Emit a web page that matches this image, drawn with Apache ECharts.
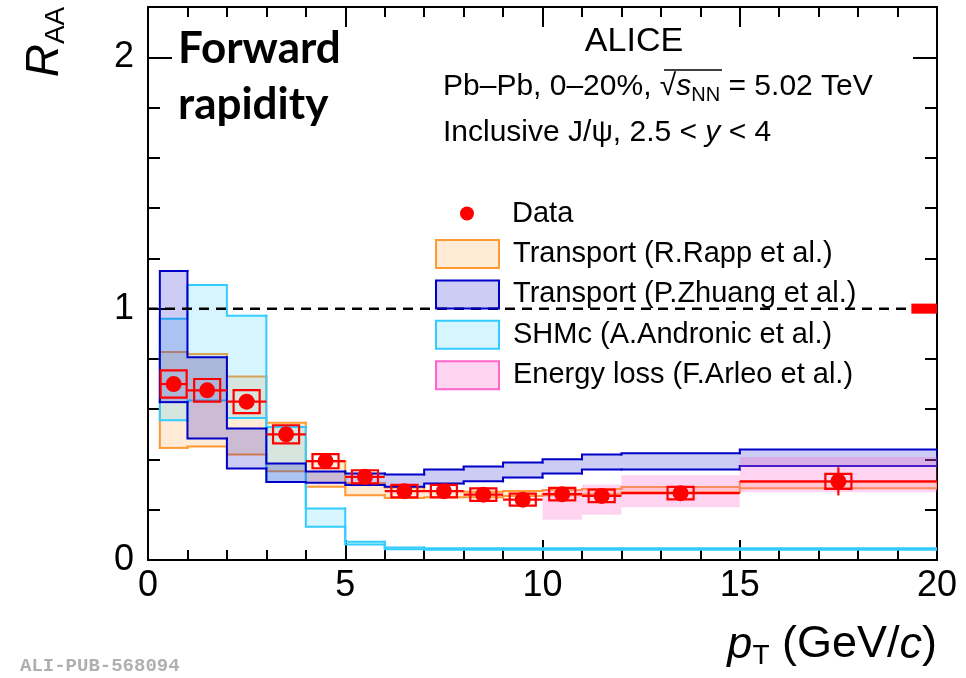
<!DOCTYPE html>
<html>
<head>
<meta charset="utf-8">
<script src="https://cdn.jsdelivr.net/npm/echarts@6/dist/echarts.min.js"></script>
<style>
html,body{margin:0;padding:0;background:#fff;}
#chart{width:966px;height:678px;}
</style>
</head>
<body>
<div id="chart"></div>
<script>
// ---------------- data ----------------
const ptLow    = [0.3, 1, 2, 3, 4, 5, 6, 7, 8, 9, 10, 11, 12, 15];
const ptHigh   = [1, 2, 3, 4, 5, 6, 7, 8, 9, 10, 11, 12, 15, 20];
const ptCenter = [0.65, 1.5, 2.5, 3.5, 4.5, 5.5, 6.5, 7.5, 8.5, 9.5, 10.5, 11.5, 13.5, 17.5];
const raa      = [0.70, 0.675, 0.63, 0.50, 0.393, 0.331, 0.274, 0.274, 0.26, 0.24, 0.262, 0.255, 0.266, 0.313];
const statErr  = [0.02, 0.02, 0.015, 0.012, 0.01, 0.01, 0.008, 0.008, 0.008, 0.008, 0.01, 0.01, 0.012, 0.056];
const sysErr   = [0.054, 0.045, 0.046, 0.036, 0.028, 0.026, 0.025, 0.025, 0.025, 0.024, 0.025, 0.025, 0.025, 0.03];
const globalUnc = 0.02;
const globalBoxPt = [19.35, 20];

// models (same pT bins as data)
const rappLo = [0.446, 0.452, 0.42, 0.353, 0.291, 0.258, 0.247, 0.25, 0.25, 0.255, 0.258, 0.262, 0.27, 0.285];
const rappHi = [0.827, 0.82, 0.73, 0.546, 0.393, 0.305, 0.288, 0.275, 0.272, 0.275, 0.278, 0.282, 0.29, 0.31];
const zhLo   = [0.628, 0.483, 0.364, 0.31, 0.307, 0.298, 0.291, 0.304, 0.313, 0.328, 0.344, 0.36, 0.36, 0.374];
const zhHi   = [1.15, 0.807, 0.523, 0.384, 0.352, 0.344, 0.34, 0.36, 0.372, 0.388, 0.401, 0.42, 0.425, 0.44];
const shmLo  = [0.556, 0.635, 0.565, 0.31, 0.132, 0.062, 0.043, 0.041, 0.041, 0.041, 0.041, 0.041, 0.041, 0.041];
const shmHi  = [0.96, 1.094, 0.972, 0.529, 0.205, 0.073, 0.05, 0.047, 0.047, 0.047, 0.047, 0.047, 0.047, 0.047];
const elPtLow  = [10, 11, 12, 15];
const elPtHigh = [11, 12, 15, 20];
const elLo = [0.16, 0.18, 0.21, 0.27];
const elHi = [0.28, 0.30, 0.337, 0.41];

const xTicks = [0, 5, 10, 15, 20];
const yTicks = [0, 1, 2];
const refLevel = 1;

// ---------------- styling ----------------
const FONT = '"Liberation Sans", Arial, sans-serif';
const C = {
  data: '#ff0000',
  rappLine: '#ff9933', rappFill: 'rgba(255,153,51,0.2)',
  zhLine: '#0000c8', zhFill: 'rgba(0,0,200,0.2)',
  shmLine: '#33ccff', shmFill: 'rgba(51,204,255,0.2)',
  elLine: '#ff66cc', elFill: 'rgba(255,102,204,0.28)'
};
const BOX_HALF = 0.33;

function makeBand(name, xlo, xhi, lo, hi, line, fill, lw) {
  const data = lo.map((v, i) => [xlo[i], xhi[i], v, hi[i]]);
  return {
    type: 'custom', name: name, data: data, silent: true, clip: true,
    encode: { x: [0, 1], y: [2, 3] },
    renderItem: function (params, api) {
      const i = params.dataIndex;
      const a = api.coord([api.value(0), api.value(3)]);
      const b = api.coord([api.value(1), api.value(2)]);
      const ch = [{ type: 'rect', shape: { x: a[0], y: a[1], width: b[0] - a[0], height: b[1] - a[1] }, style: { fill: fill } }];
      if (line) {
        const st = { stroke: line, lineWidth: lw, fill: null, lineCap: 'square', lineJoin: 'miter' };
        const top = [];
        if (i === 0) top.push([a[0], b[1]]);
        else top.push([a[0], api.coord([xlo[i], hi[i - 1]])[1]]);
        top.push([a[0], a[1]], [b[0], a[1]]);
        if (i === data.length - 1) top.push([b[0], b[1]]);
        const bot = [];
        if (i > 0) bot.push([a[0], api.coord([xlo[i], lo[i - 1]])[1]]);
        bot.push([a[0], b[1]], [b[0], b[1]]);
        ch.push({ type: 'polyline', shape: { points: top }, style: st });
        ch.push({ type: 'polyline', shape: { points: bot }, style: st });
      }
      return { type: 'group', children: ch };
    }
  };
}

const dataPoints = ptCenter.map((x, i) => [x, raa[i], ptLow[i], ptHigh[i], statErr[i], sysErr[i]]);

const chart = echarts.init(document.getElementById('chart'), null, { renderer: 'canvas' });

const axisCommonX = {
  type: 'value', min: 0, max: 20, interval: 5,
  axisLine: { show: true, onZero: false, lineStyle: { color: '#000', width: 2 } },
  axisTick: { show: true, inside: true, length: 20, lineStyle: { color: '#000', width: 2 } },
  minorTick: { show: true, splitNumber: 5, length: 10, lineStyle: { color: '#000', width: 2 } },
  splitLine: { show: false }, minorSplitLine: { show: false }
};
const axisCommonY = {
  type: 'value', min: 0, max: 2.2, interval: 1,
  axisLine: { show: true, onZero: false, lineStyle: { color: '#000', width: 2 } },
  axisTick: { show: true, inside: true, length: 24, lineStyle: { color: '#000', width: 2 } },
  minorTick: { show: true, splitNumber: 5, length: 12, lineStyle: { color: '#000', width: 2 } },
  splitLine: { show: false }, minorSplitLine: { show: false }
};

const option = {
  backgroundColor: '#fff',
  animation: false,
  grid: { left: 148, right: 29, top: 7, bottom: 118, containLabel: false },
  xAxis: [
    Object.assign({}, axisCommonX, {
      position: 'bottom',
      axisLabel: { color: '#000', fontSize: 36, fontFamily: FONT, margin: 8,
        formatter: v => (xTicks.indexOf(v) >= 0 ? String(v) : '') }
    }),
    Object.assign({}, axisCommonX, { position: 'top', axisLabel: { show: false } })
  ],
  yAxis: [
    Object.assign({}, axisCommonY, {
      position: 'left',
      axisLabel: { color: '#000', fontSize: 36, fontFamily: FONT, margin: 14,
        formatter: v => (yTicks.indexOf(v) >= 0 ? String(v) : '') }
    }),
    Object.assign({}, axisCommonY, { position: 'right', axisLabel: { show: false } })
  ],
  legend: [
    {
      data: [{ name: 'Data', icon: 'circle', itemStyle: { color: C.data, borderWidth: 0 } }],
      left: 460, top: 199, padding: 0, itemWidth: 14, itemHeight: 14, selectedMode: false,
      textStyle: { fontSize: 29, fontFamily: FONT, color: '#000', padding: [0, 0, 0, 33] }
    },
    {
      data: [
        { name: 'Transport (R.Rapp et al.)', icon: 'rect', itemStyle: { color: C.rappFill, borderColor: C.rappLine, borderWidth: 2 } },
        { name: 'Transport (P.Zhuang et al.)', icon: 'rect', itemStyle: { color: C.zhFill, borderColor: C.zhLine, borderWidth: 2 } },
        { name: 'SHMc (A.Andronic et al.)', icon: 'rect', itemStyle: { color: C.shmFill, borderColor: C.shmLine, borderWidth: 2 } },
        { name: 'Energy loss (F.Arleo et al.)', icon: 'rect', itemStyle: { color: C.elFill, borderColor: C.elLine, borderWidth: 2 } }
      ],
      orient: 'vertical', left: 435, top: 239, padding: 0, itemWidth: 63, itemHeight: 28, itemGap: 10.4, selectedMode: false,
      textStyle: { fontSize: 29, fontFamily: FONT, color: '#000', padding: [0, 0, 0, 9] }
    }
  ],
  series: [
    makeBand('Transport (R.Rapp et al.)', ptLow, ptHigh, rappLo, rappHi, C.rappLine, C.rappFill, 2),
    makeBand('SHMc (A.Andronic et al.)', ptLow, ptHigh, shmLo, shmHi, C.shmLine, C.shmFill, 2),
    makeBand('Transport (P.Zhuang et al.)', ptLow, ptHigh, zhLo, zhHi, C.zhLine, C.zhFill, 2),
    makeBand('Energy loss (F.Arleo et al.)', elPtLow, elPtHigh, elLo, elHi, null, C.elFill, 0),
    {
      type: 'line', name: 'unity', silent: true, symbol: 'none',
      data: [[0, refLevel], [20, refLevel]],
      lineStyle: { color: '#000', width: 2.5, type: [10, 7] }, z: 3
    },
    {
      type: 'custom', name: 'global', silent: true, z: 4,
      data: [[globalBoxPt[0], globalBoxPt[1], refLevel - globalUnc, refLevel + globalUnc]],
      encode: { x: [0, 1], y: [2, 3] },
      renderItem: function (params, api) {
        const a = api.coord([api.value(0), api.value(3)]);
        const b = api.coord([api.value(1), api.value(2)]);
        return { type: 'rect', shape: { x: a[0], y: a[1], width: b[0] - a[0], height: b[1] - a[1] }, style: { fill: C.data } };
      }
    },
    {
      type: 'custom', name: 'Data', silent: true, z: 5,
      itemStyle: { color: C.data },
      data: dataPoints,
      encode: { x: [0, 2, 3], y: 1 },
      renderItem: function (params, api) {
        const x = api.value(0), y = api.value(1), xl = api.value(2), xh = api.value(3), st = api.value(4), sy = api.value(5);
        const c = api.coord([x, y]);
        const l = api.coord([xl, y]), r = api.coord([xh, y]);
        const t = api.coord([x, y + st]), bt = api.coord([x, y - st]);
        const b1 = api.coord([x - BOX_HALF, y + sy]), b2 = api.coord([x + BOX_HALF, y - sy]);
        const ls = { stroke: C.data, lineWidth: 2.2, fill: null };
        return {
          type: 'group', children: [
            { type: 'line', shape: { x1: l[0], y1: l[1], x2: r[0], y2: r[1] }, style: ls },
            { type: 'line', shape: { x1: t[0], y1: t[1], x2: bt[0], y2: bt[1] }, style: ls },
            { type: 'rect', shape: { x: b1[0], y: b1[1], width: b2[0] - b1[0], height: b2[1] - b1[1] }, style: ls },
            { type: 'circle', shape: { cx: c[0], cy: c[1], r: 8 }, style: { fill: C.data } }
          ]
        };
      }
    }
  ],
  graphic: [
    { type: 'text', x: 178, y: 21, style: { text: 'Forward\nrapidity', font: 'bold 44px Lato, "Open Sans", sans-serif', lineHeight: 56, fill: '#000' } },
    { type: 'text', x: 634, y: 42, style: { text: 'ALICE', font: '34px ' + FONT, fill: '#000', align: 'center', verticalAlign: 'middle' } },
    { type: 'text', x: 443, y: 87, style: {
        text: '{n|Pb–Pb, 0–20%, }{q|√}{i|s}{sub|NN}{n| = 5.02 TeV}',
        align: 'left', verticalAlign: 'middle', fill: '#000',
        rich: {
          n: { fontSize: 30, fontFamily: FONT, lineHeight: 36 },
          q: { fontSize: 30, fontFamily: FONT, lineHeight: 36 },
          i: { fontSize: 30, fontFamily: FONT, fontStyle: 'italic', lineHeight: 36 },
          sub: { fontSize: 20, fontFamily: FONT, lineHeight: 18, verticalAlign: 'bottom' }
        }
    } },
    { type: 'line', shape: { x1: 664, y1: 70, x2: 722, y2: 70 }, style: { stroke: '#000', lineWidth: 1.5 } },
    { type: 'text', x: 443, y: 133, style: {
        text: '{n|Inclusive J/ψ, 2.5 < }{i|y}{n| < 4}',
        align: 'left', verticalAlign: 'middle', fill: '#000',
        rich: {
          n: { fontSize: 30, fontFamily: FONT, lineHeight: 36 },
          i: { fontSize: 30, fontFamily: FONT, fontStyle: 'italic', lineHeight: 36 }
        }
    } },
    { type: 'text', x: 45, y: 42, rotation: Math.PI / 2, style: {
        text: '{r|R}{sub|AA}', align: 'center', verticalAlign: 'middle', fill: '#000',
        rich: {
          r: { fontSize: 46, fontFamily: FONT, fontStyle: 'italic', lineHeight: 50 },
          sub: { fontSize: 28, fontFamily: FONT, lineHeight: 20, verticalAlign: 'bottom' }
        }
    } },
    { type: 'text', x: 937, y: 645, style: {
        text: '{i|p}{sub|T}{n| (GeV/}{i|c}{n|)}', align: 'right', verticalAlign: 'middle', fill: '#000',
        rich: {
          i: { fontSize: 45, fontFamily: FONT, fontStyle: 'italic', lineHeight: 50 },
          n: { fontSize: 45, fontFamily: FONT, lineHeight: 50 },
          sub: { fontSize: 28, fontFamily: FONT, lineHeight: 10, verticalAlign: 'bottom' }
        }
    } },
    { type: 'text', x: 20, y: 666, style: { text: 'ALI-PUB-568094', font: 'bold 19px "Liberation Mono", "DejaVu Sans Mono", monospace', fill: '#b0b0b0', verticalAlign: 'middle' } }
  ]
};
chart.setOption(option);
</script>
</body>
</html>
